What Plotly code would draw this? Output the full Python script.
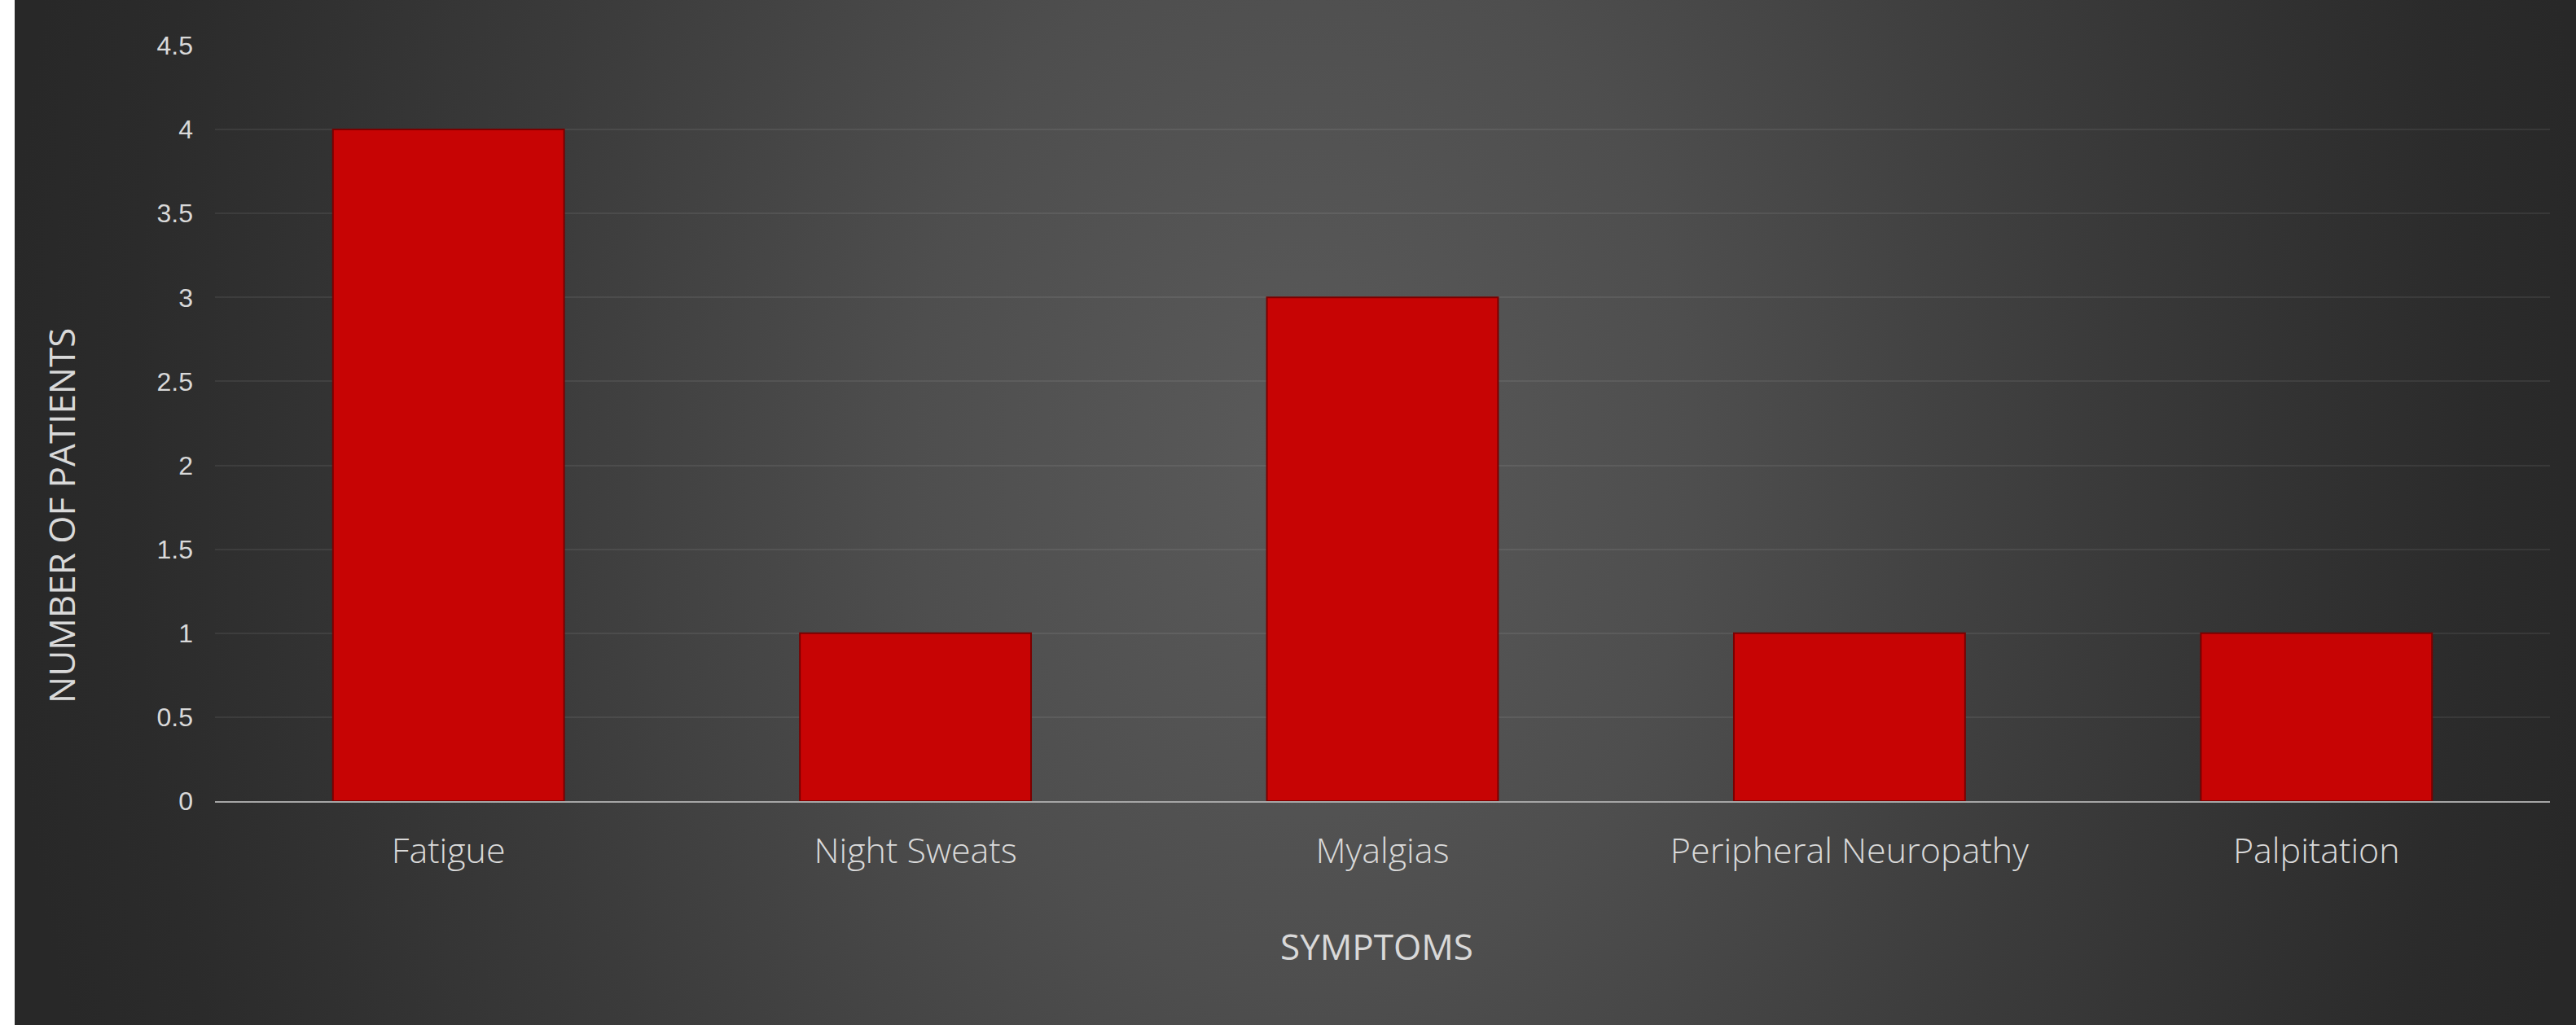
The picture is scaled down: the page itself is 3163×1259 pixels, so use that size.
import base64
import plotly.graph_objects as go

categories = ["Fatigue", "Night Sweats", "Myalgias", "Peripheral Neuropathy", "Palpitation"]
patients = [4, 1, 3, 1, 1]
y_ticks = [0, 0.5, 1, 1.5, 2, 2.5, 3, 3.5, 4, 4.5]
y_tick_labels = ["0", "0.5", "1", "1.5", "2", "2.5", "3", "3.5", "4", "4.5"]
x_title = "SYMPTOMS"
y_title = "NUMBER OF PATIENTS"

W, H = 3163, 1259
ML, MR, MT, MB = 264, 32, 56, 275
PW = W - ML - MR
PH = H - MT - MB
STRIP = 18
BW = W - STRIP

cx, cy, rx, ry = 1600 - STRIP, 560, 1600, 2200
svg = f'''<svg xmlns="http://www.w3.org/2000/svg" width="{BW}" height="{H}" viewBox="0 0 {BW} {H}" preserveAspectRatio="none">
<defs><radialGradient id="g" gradientUnits="userSpaceOnUse" cx="{cx}" cy="{cy}" r="{rx}"
 gradientTransform="translate({cx},{cy}) scale(1,{ry/rx}) translate({-cx},{-cy})">
<stop offset="0" stop-color="#5a5a5a"/>
<stop offset="0.3" stop-color="#4e4e4e"/>
<stop offset="0.6" stop-color="#3b3b3b"/>
<stop offset="0.9" stop-color="#2b2b2b"/>
<stop offset="1" stop-color="#282828"/>
</radialGradient></defs>
<rect x="0" y="0" width="{BW}" height="{H}" fill="url(#g)"/>
</svg>'''
bg_src = "data:image/svg+xml;base64," + base64.b64encode(svg.encode()).decode()

fig = go.Figure()
fig.add_trace(go.Bar(
    x=categories, y=patients,
    marker=dict(color="#c70404", line=dict(color="#7a0000", width=2)),
    width=0.495,
))

fig.update_layout(
    width=W, height=H,
    margin=dict(l=ML, r=MR, t=MT, b=MB),
    paper_bgcolor="#ffffff",
    plot_bgcolor="rgba(0,0,0,0)",
    showlegend=False,
    images=[dict(
        source=bg_src, xref="paper", yref="paper",
        x=-(ML - STRIP) / PW, y=1 + MT / PH,
        sizex=BW / PW, sizey=H / PH,
        xanchor="left", yanchor="top", sizing="stretch", layer="below",
    )],
    xaxis=dict(
        showgrid=False, showline=True, linecolor="#a6a6a6", linewidth=2,
        tickfont=dict(family="Open Sans", size=43, color="#d9d9d9", weight=300),
        ticklabelstandoff=22,
    ),
    yaxis=dict(
        range=[0, 4.5], tickvals=y_ticks, ticktext=y_tick_labels,
        showgrid=True, gridcolor="rgba(255,255,255,0.07)", gridwidth=2,
        zeroline=False, showline=False,
        tickfont=dict(family="Liberation Sans", size=32, color="#d9d9d9"),
        ticklabelstandoff=26,
    ),
    annotations=[
        dict(text=x_title, xref="paper", yref="paper",
             x=(1690 - ML) / PW, y=-(1162 - (H - MB)) / PH,
             xanchor="center", yanchor="middle", showarrow=False,
             font=dict(family="Open Sans", size=44, color="#d9d9d9")),
        dict(text=y_title, xref="paper", yref="paper", textangle=-90,
             x=(75 - ML) / PW, y=((H - MB) - 634) / PH,
             xanchor="center", yanchor="middle", showarrow=False,
             font=dict(family="Open Sans", size=44, color="#d9d9d9")),
    ],
    bargap=0.5,
)

fig.write_html("out.html")
